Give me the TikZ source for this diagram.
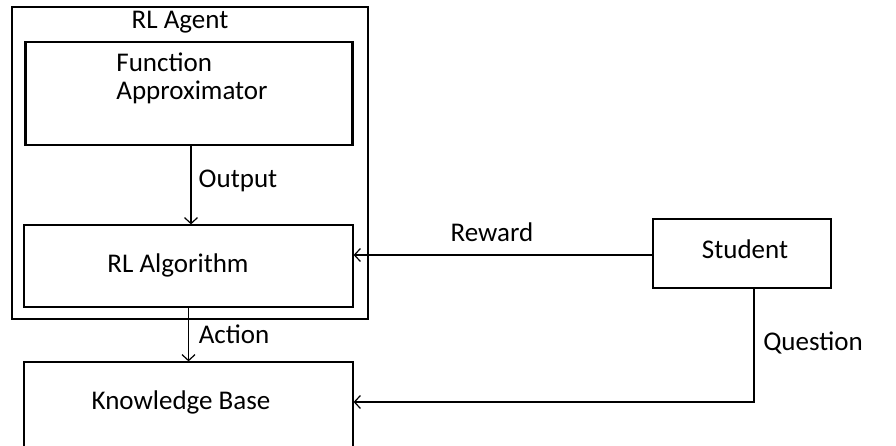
\documentclass[tikz,border=0pt]{standalone}
\usepackage{fontspec}
\setmainfont{Carlito}
\usetikzlibrary{arrows.meta,positioning}

\begin{document}
\begin{tikzpicture}[
  rlouter/.style = {draw, line width=1.2pt, minimum width=356pt, minimum height=312pt, inner sep=0pt},
  rlblock/.style = {draw, line width=1.2pt, inner sep=0pt},
  rltext/.style  = {font=\fontsize{27}{28}\selectfont, inner sep=0pt},
  rllink/.style  = {-{Straight Barb[length=6pt,width=13pt]}, line width=1.2pt},
  x=1pt, y=-1pt,
]
  \clip (0,0) rectangle (896,446);

  \node[rlouter] (agent) at (190,163) {};
  \node[rlblock, minimum width=326pt, minimum height=103pt] (fa) at (189,93.5) {};
  \node[rlblock, minimum width=329pt, minimum height=82pt] (alg) at (188.5,266) {};
  \node[rlblock, minimum width=329pt, minimum height=98pt] (kb) at (188.5,411) {};
  \node[rlblock, minimum width=178pt, minimum height=69pt] (student) at (742,253.5) {};
  \draw[line width=3pt] (fa.north west) -- (fa.south west);
  \draw[line width=3pt] (fa.north east) -- (fa.south east);

  \node[rltext] (agentlbl) at (180,22) {RL Agent};
  \node[rltext, align=left] (falbl) at (192,78) {Function\\Approximator};
  \node[rltext] (alglbl) at (178,265) {RL Algorithm};
  \node[rltext] (kblbl) at (181,402) {Knowledge Base};
  \node[rltext] (studentlbl) at (745,249) {Student};

  \coordinate (q) at (754,402);
  \draw[rllink] ([xshift=2pt]fa.south) -- ([xshift=2.5pt]alg.north);
  \draw[rllink] (alg.south) -- (kb.north);
  \draw[rllink] ([yshift=-1.5pt]student.west) -- ([yshift=-1.5pt]student.west -| alg.east);
  \draw[rllink] (student.south -| q) -- (q) -- (q -| kb.east);

  \node[rltext] (outputlbl) at (238,181) {Output};
  \node[rltext] (actionlbl) at (234,334) {Action};
  \node[rltext] (rewardlbl) at (492,232) {Reward};
  \node[rltext] (questionlbl) at (813,343) {Question};
\end{tikzpicture}
\end{document}
